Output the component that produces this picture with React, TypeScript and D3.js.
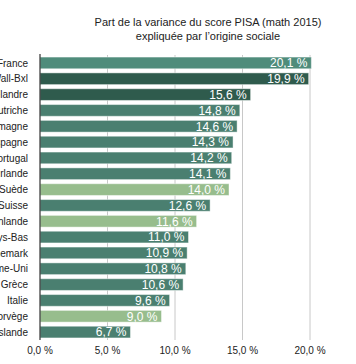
import React from "react";
import * as d3 from "d3";

const countries = ["France","Wall-Bxl","Flandre","Autriche","Allemagne","Espagne","Portugal","Irlande","Suède","Suisse","Finlande","Pays-Bas","Danemark","Royaume-Uni","Grèce","Italie","Norvège","Islande"];
const values = [20.1,19.9,15.6,14.8,14.6,14.3,14.2,14.1,14.0,12.6,11.6,11.0,10.9,10.8,10.6,9.6,9.0,6.7];
const groups = ["fr","be","be","o","o","o","o","o","n","o","n","o","o","o","o","o","n","o"];
const ticks = [0,5,10,15,20];
const titleLines = ["Part de la variance du score PISA (math 2015)","expliquée par l’origine sociale"];

const colorOf: Record<string,string> = { fr: "#4f8c7b", be: "#2f5b4d", o: "#4a7f70", n: "#97bd8d" };

export default function App() {
  const W = 356, H = 364;
  const x = d3.scaleLinear().domain([0, 20]).range([40, 310]);
  const y = d3.scaleBand<string>().domain(countries).range([55, 340]).paddingInner(0.26).paddingOuter(0.13);
  const font = "'Liberation Sans', Arial, Helvetica, sans-serif";
  return (
    <svg width={W} height={H} style={{ position: "absolute", left: 0, top: 0, fontFamily: font }}>
      <rect width={W} height={H} fill="#fff" />
      {titleLines.map((t, i) => (
        <text key={i} x={208} y={26 + i * 14} textAnchor="middle" fontSize={11} fill="#222">{t}</text>
      ))}
      {ticks.filter(t => t > 0).map(t => (
        <line key={t} x1={x(t)} x2={x(t)} y1={55} y2={340} stroke="#c8c8c8" strokeWidth={1} />
      ))}
      {countries.map((c, i) => (
        <g key={c}>
          <rect x={x(0)} y={y(c)!} width={x(values[i]) - x(0)} height={y.bandwidth()} fill={colorOf[groups[i]]} stroke="rgba(255,255,255,0.45)" strokeWidth={1} />
          <text x={x(values[i]) - 4} y={y(c)! + y.bandwidth() / 2 + 4.3} textAnchor="end" fontSize={12} fill="#fff">{d3.format(".1f")(values[i]).replace(".", ",")} %</text>
          <text x={28} y={y(c)! + y.bandwidth() / 2 + 3.6} textAnchor="end" fontSize={10} fill="#222">{c}</text>
        </g>
      ))}
      <line x1={x(0)} x2={x(0)} y1={54} y2={340} stroke="#333" strokeWidth={1.2} />
      {ticks.map(t => (
        <text key={t} x={x(t)} y={354} textAnchor="middle" fontSize={10} fill="#222">{d3.format(".1f")(t).replace(".", ",")} %</text>
      ))}
    </svg>
  );
}
